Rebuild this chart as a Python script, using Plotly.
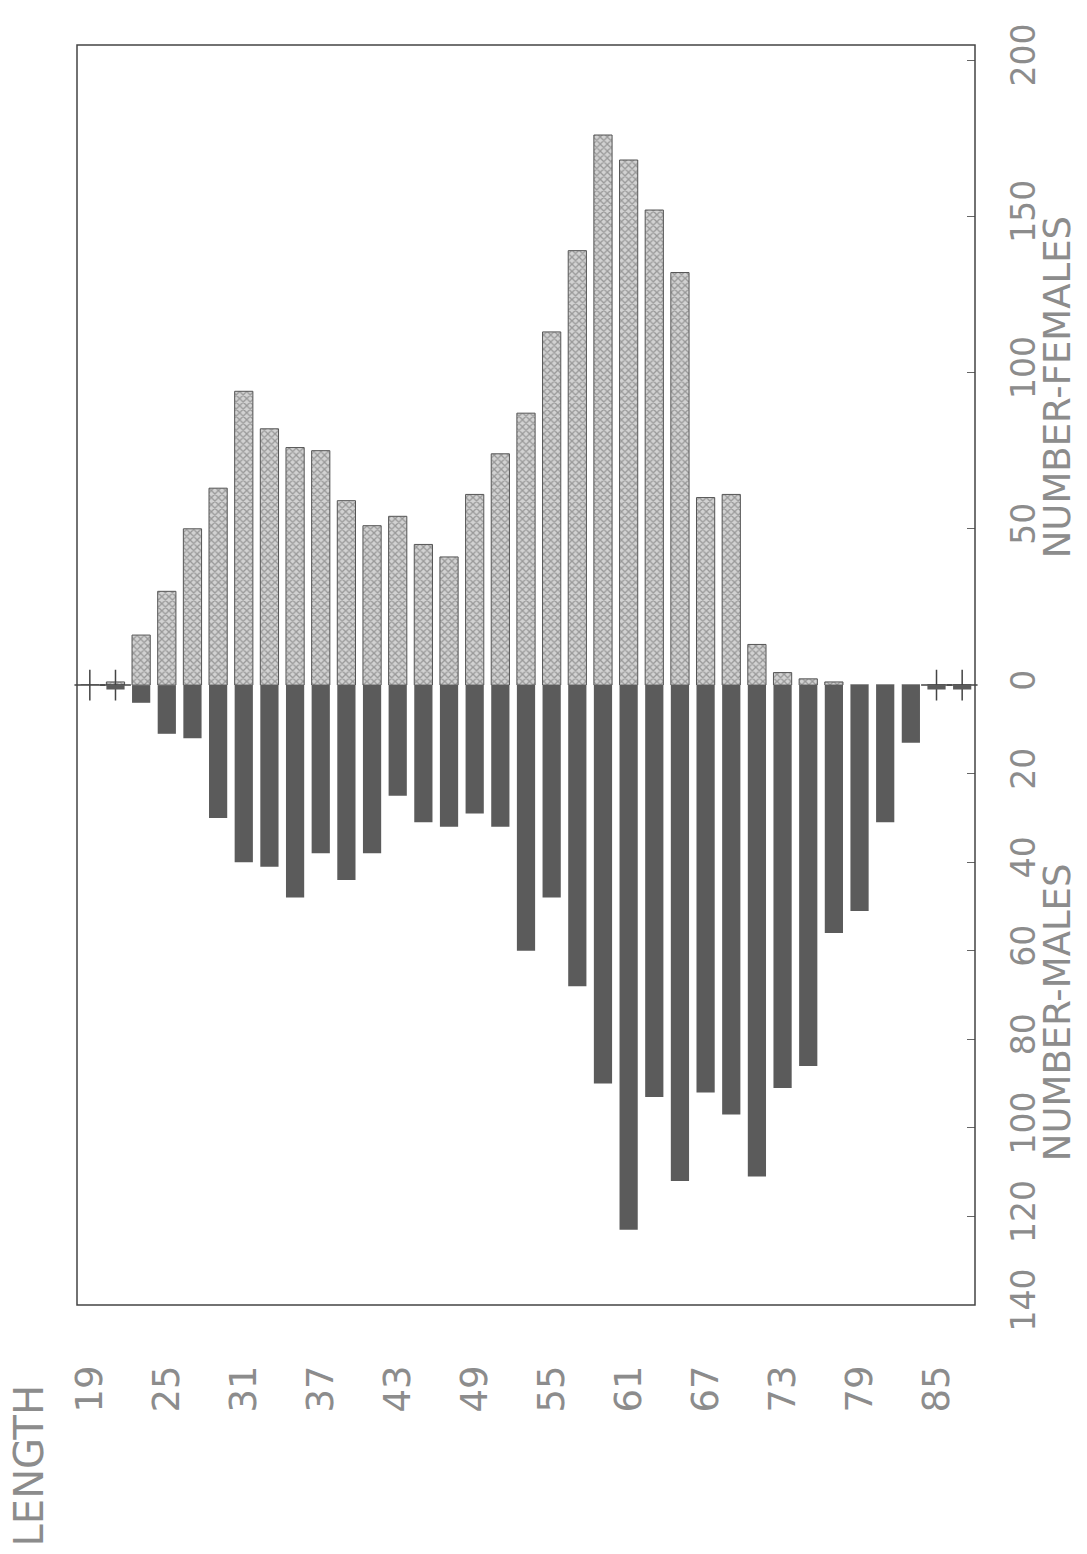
import plotly.graph_objects as go

# Length classes (bar positions)
lengths = [19, 21, 23, 25, 27, 29, 31, 33, 35, 37, 39, 41, 43, 45, 47, 49, 51, 53,
           55, 57, 59, 61, 63, 65, 67, 69, 71, 73, 75, 77, 79, 81, 83, 85, 87]

# Number of females per length class (upward)
females = [0, 1, 16, 30, 50, 63, 94, 82, 76, 75, 59, 51, 54, 45, 41, 61, 74, 87,
           113, 139, 176, 168, 152, 132, 60, 61, 13, 4, 2, 1, 0, 0, 0, 0, 0]

# Number of males per length class (downward)
males = [0, 1, 4, 11, 12, 30, 40, 41, 48, 38, 44, 38, 25, 31, 32, 29, 32, 60,
         48, 68, 90, 123, 93, 112, 92, 97, 111, 91, 86, 56, 51, 31, 13, 1, 1]

# Length classes with only a "+" marker (near-zero counts)
cross_lengths = [19, 21, 85, 87]
cross_values = [0, 0, 0, 0]

length_ticks = [19, 25, 31, 37, 43, 49, 55, 61, 67, 73, 79, 85]
female_ticks = [0, 50, 100, 150, 200]
male_ticks = [20, 40, 60, 80, 100, 120, 140]

label_color = "#8c8c8c"
font_family = "DejaVu Sans"

fig = go.Figure()

fig.add_bar(
    x=lengths, y=females, yaxis="y", xaxis="x", width=1.42,
    name="Females",
    marker=dict(
        color="#c8c8c8",
        pattern=dict(shape="x", fgcolor="#5e5e5e", bgcolor="#d2d2d2", size=5, solidity=0.45),
        line=dict(color="#555555", width=1),
    ),
)

fig.add_bar(
    x=lengths, y=males, yaxis="y2", xaxis="x", width=1.42,
    name="Males",
    marker=dict(color="#5b5b5b", line=dict(width=0)),
)

fig.add_scatter(
    x=cross_lengths, y=cross_values, yaxis="y", xaxis="x",
    mode="markers", cliponaxis=False, showlegend=False,
    marker=dict(symbol="cross-thin", size=22, color="#444444",
                line=dict(color="#444444", width=1.5)),
)

fig.update_layout(
    width=1087, height=1554,
    margin=dict(l=77, r=112, t=45, b=249, pad=0),
    paper_bgcolor="white", plot_bgcolor="white",
    showlegend=False, barmode="overlay",
    font=dict(family=font_family, color=label_color),
    xaxis=dict(
        anchor="y2",
        range=[18, 88], tickvals=length_ticks, tickangle=-90,
        tickfont=dict(size=37, color=label_color, family=font_family),
        ticklabelstandoff=52,
        showgrid=False, zeroline=False, showline=False, ticks="",
    ),
    yaxis=dict(
        domain=[0.492, 1], range=[0, 204.8], side="right", anchor="x",
        tickvals=female_ticks, tickangle=-90,
        tickfont=dict(size=33, color=label_color, family=font_family),
        ticks="inside", ticklen=8, tickcolor="#666666",
        ticklabelstandoff=26,
        showgrid=False, zeroline=False, showline=False,
    ),
    yaxis2=dict(
        domain=[0, 0.492], range=[140, 0], side="right", anchor="x",
        tickvals=male_ticks, tickangle=-90,
        tickfont=dict(size=33, color=label_color, family=font_family),
        ticks="inside", ticklen=8, tickcolor="#666666",
        ticklabelstandoff=26,
        showgrid=False, zeroline=False, showline=False,
    ),
    shapes=[dict(type="rect", xref="paper", yref="paper", x0=0, x1=1, y0=0, y1=1,
                 line=dict(color="#444444", width=1.5), layer="above")],
    annotations=[
        dict(text="LENGTH", xref="paper", yref="paper", x=-0.053, y=-0.127,
             textangle=-90, showarrow=False, xanchor="center", yanchor="middle",
             font=dict(size=40, color=label_color, family=font_family)),
        dict(text="NUMBER-FEMALES", xref="paper", yref="paper", x=1.092, y=0.728,
             textangle=-90, showarrow=False, xanchor="center", yanchor="middle",
             font=dict(size=37, color=label_color, family=font_family)),
        dict(text="NUMBER-MALES", xref="paper", yref="paper", x=1.092, y=0.232,
             textangle=-90, showarrow=False, xanchor="center", yanchor="middle",
             font=dict(size=37, color=label_color, family=font_family)),
    ],
)

fig.write_html("out.html")
